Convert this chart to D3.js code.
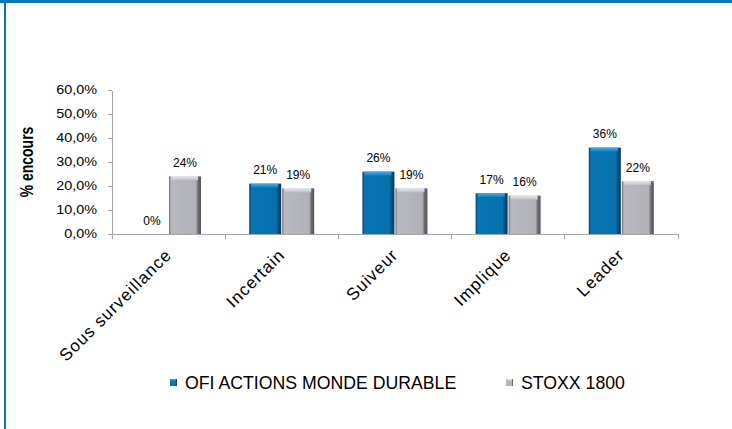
<!DOCTYPE html>
<meta charset="utf-8">
<style>
body { margin: 0; background: #fff; }
text { font-family: "Liberation Sans", Arial, sans-serif; fill: #000; }
.axis path, .axis line { stroke: #a6a6a6; shape-rendering: crispEdges; }
</style>
<body>
<svg id="chart"></svg>
<script src="https://d3js.org/d3.v7.min.js"></script>
<script>

var categories = ["Sous surveillance", "Incertain", "Suiveur", "Implique", "Leader"];
var series = ["OFI ACTIONS MONDE DURABLE", "STOXX 1800"];
var fundValues = [0, 21, 26, 17, 36];
var indexValues = [24, 19, 19, 16, 22];
var yTicks = [0, 10, 20, 30, 40, 50, 60];

var width = 732,
    height = 429;

var svg = d3.select("#chart")
    .attr("width", width)
    .attr("height", height);

// frame (blue top band + left rule)
svg.append("rect").attr("x", 0).attr("y", 0).attr("width", width).attr("height", 3).attr("fill", "#0877b3");
svg.append("rect").attr("x", 4).attr("y", 0).attr("width", 2).attr("height", height).attr("fill", "#0877b3");

var defs = svg.append("defs");

function sideGradient(id, stops) {
  var g = defs.append("linearGradient").attr("id", id)
      .attr("x1", "0%").attr("x2", "100%").attr("y1", "0%").attr("y2", "0%");
  stops.forEach(function(s) {
    g.append("stop").attr("offset", s[0]).attr("stop-color", s[1]);
  });
}
function topGradient(id, c1, c2) {
  var g = defs.append("linearGradient").attr("id", id)
      .attr("x1", "0%").attr("x2", "0%").attr("y1", "0%").attr("y2", "100%");
  g.append("stop").attr("offset", "0%").attr("stop-color", c1);
  g.append("stop").attr("offset", "100%").attr("stop-color", c2);
}

sideGradient("blueSide", [["0%", "#03406a"], ["7%", "#0874b3"], ["84%", "#0670ad"], ["91%", "#04507f"], ["100%", "#023a5c"]]);
sideGradient("greySide", [["0%", "#6e7075"], ["7%", "#b7b9bf"], ["84%", "#b0b2b8"], ["91%", "#6a6c71"], ["100%", "#525458"]]);
topGradient("blueTop", "#45ade6", "#0c7fc0");
topGradient("greyTop", "#e6e8ec", "#bdbfc5");

var fills = [{side: "url(#blueSide)", top: "url(#blueTop)"},
             {side: "url(#greySide)", top: "url(#greyTop)"}];

var x0 = d3.scaleBand()
    .domain(categories)
    .range([112, 678]);

var x1 = d3.scaleBand()
    .domain(series)
    .range([24, 89])
    .paddingInner(0.03);

var y = d3.scaleLinear()
    .domain([0, 60])
    .range([234, 90]);

// y axis
var yAxis = svg.append("g")
    .attr("class", "axis")
    .attr("transform", "translate(112,0)")
    .call(d3.axisLeft(y)
      .tickValues(yTicks)
      .tickSize(4)
      .tickSizeOuter(0)
      .tickFormat(function(d) { return d.toFixed(1).replace(".", ",") + "%"; }));

yAxis.selectAll("text")
    .attr("x", -12.5)
    .attr("transform", "scale(1.2,1)")
    .style("font-size", "12px")
    .style("fill", "#000");

// x axis
var xAxis = svg.append("g")
    .attr("class", "axis")
    .attr("transform", "translate(0,234)")
    .call(d3.axisBottom(x0).tickSize(0).tickSizeOuter(0));

xAxis.selectAll("text")
    .attr("x", null)
    .attr("y", null)
    .attr("dy", null)
    .attr("text-anchor", "end")
    .attr("transform", "translate(4,22) rotate(-45)")
    .style("font-size", "17px")
    .style("letter-spacing", "1px")
    .style("fill", "#000");

var bounds = categories.map(function(c) { return x0(c); }).concat([x0.range()[1]]);
xAxis.selectAll(".bound")
    .data(bounds)
  .enter().append("line")
    .attr("class", "bound")
    .attr("x1", function(d) { return d; })
    .attr("x2", function(d) { return d; })
    .attr("y1", 0)
    .attr("y2", 5)
    .attr("stroke", "#a6a6a6");

// y title
svg.append("text")
    .attr("transform", "translate(33,162) rotate(-90) scale(1,1.3)")
    .attr("text-anchor", "middle")
    .style("font-size", "14px")
    .style("font-weight", "bold")
    .text("% encours");

// bars
var seriesValues = [fundValues, indexValues];

series.forEach(function(s, si) {
  var vals = seriesValues[si];
  var g = svg.append("g");
  var bars = g.selectAll("g.bar")
      .data(categories.map(function(c, i) { return {cat: c, v: vals[i]}; }))
    .enter().append("g")
      .attr("class", "bar")
      .attr("transform", function(d) { return "translate(" + (x0(d.cat) + x1(s)) + ",0)"; });

  bars.filter(function(d) { return d.v > 0; }).append("rect")
      .attr("y", function(d) { return y(d.v); })
      .attr("width", x1.bandwidth())
      .attr("height", function(d) { return y(0) - y(d.v); })
      .attr("fill", fills[si].side);

  bars.filter(function(d) { return d.v > 0; }).append("rect")
      .attr("x", 2)
      .attr("y", function(d) { return y(d.v); })
      .attr("width", x1.bandwidth() - 5)
      .attr("height", 4)
      .attr("fill", fills[si].top);

  bars.append("text")
      .attr("x", x1.bandwidth() / 2)
      .attr("y", function(d) { return y(d.v) - 9.5; })
      .attr("text-anchor", "middle")
      .style("font-size", "12px")
      .text(function(d) { return d.v + "%"; });
});

// legend
var legendX = [170, 506];
series.forEach(function(s, si) {
  var lg = svg.append("g").attr("transform", "translate(" + legendX[si] + ",379)");
  lg.append("rect")
      .attr("width", 7)
      .attr("height", 7)
      .attr("fill", fills[si].side);
  lg.append("rect")
      .attr("x", 1)
      .attr("width", 5)
      .attr("height", 2)
      .attr("fill", fills[si].top);
  lg.append("text")
      .attr("x", 15)
      .attr("y", 9.5)
      .style("font-size", "17.7px")
      .text(s);
});

</script>
